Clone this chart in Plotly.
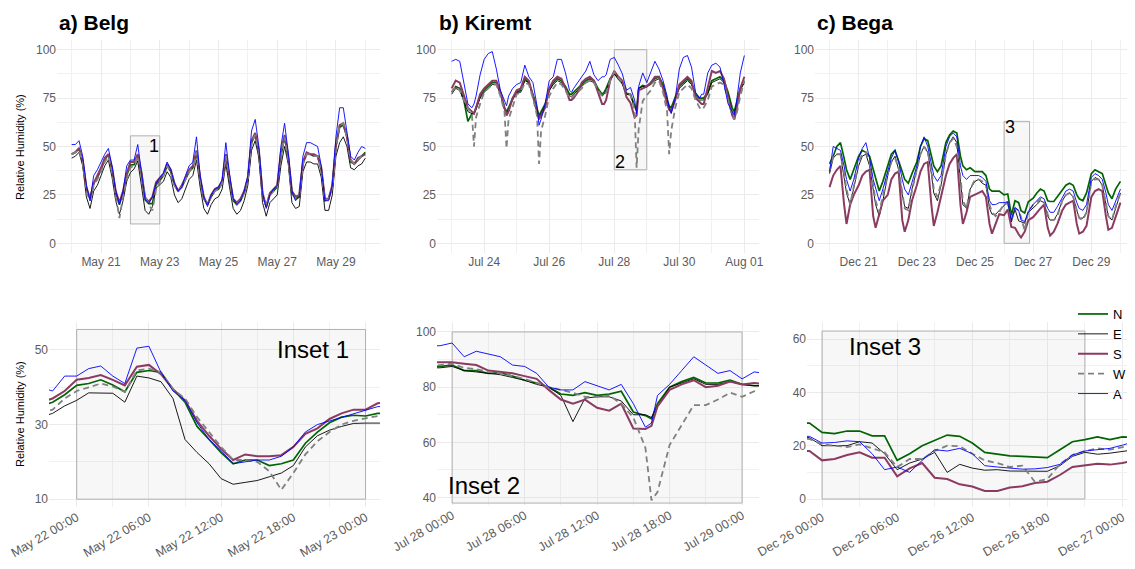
import pandas as pd
import plotly.graph_objects as go

# the page adds an 8 px body margin; the figure fills the rest of the 1135x569 window
PAGE_OFF = 8
FIG_W, FIG_H = 1135 - PAGE_OFF, 569 - PAGE_OFF
FONT = "Liberation Sans, Arial, sans-serif"

# ---------------- a) Belg : readings every 3 h, May 20 00:00 -> May 30 00:00
belg_start = "2019-05-20"
belg_day_hours = [0, 3, 6, 9, 12, 15, 18, 21]
belg_days = 10
belg_N = [46, 47, 49, 42, 28, 23, 31, 34,
          38, 43, 46, 38, 26, 20, 26, 35,
          40.5, 40.6, 44.5, 36, 22.5, 20.5, 20.5, 30.5,
          32.3, 35, 40, 37, 30, 27, 29, 33,
          37, 39, 47, 33, 23, 20, 24, 27,
          28, 31, 45, 33, 22, 20, 22, 26,
          33, 52, 56, 47, 25, 19, 25, 27,
          29, 45, 55, 44, 26, 23, 24, 41,
          46, 46, 45, 45, 38, 22, 23, 29,
          50, 60, 61, 55, 42, 41, 43, 45,
          47]
belg_E = [44, 45, 47, 40, 24, 18, 27, 30,
          35, 40, 43, 34, 22, 15, 22, 32,
          36.5, 38.4, 42.5, 30, 17, 15, 19, 28.5,
          30.4, 32, 37, 34, 25, 21, 23, 28,
          33, 35, 43, 29, 18, 15, 20, 23,
          24, 28, 41, 29, 18, 15, 17, 22,
          30, 48, 53, 44, 21, 14, 21, 23,
          25, 40, 50, 41, 21, 18, 19, 37,
          42, 42, 41, 41, 34, 17, 17, 25,
          45, 52, 55, 50, 39, 38, 40, 41,
          44]
belg_S = [46, 47, 49, 43, 29, 23, 31, 35,
          39, 44, 46, 39, 27, 21, 27, 36,
          42, 42, 46, 36.5, 23.5, 21.5, 24, 31.5,
          34, 36, 41, 38, 31, 27, 30, 34,
          38, 40, 48, 34, 24, 20, 25, 28,
          29, 32, 46, 34, 23, 21, 23, 27,
          34, 53, 57, 48, 26, 19, 26, 28,
          30, 47, 56, 45, 27, 24, 25, 42,
          47, 46, 46, 45, 39, 23, 23, 30,
          51, 61, 62, 55, 43, 41, 44, 45,
          46]
belg_W = [46, 47, 48, 42, 27, 22, 30, 33,
          37, 42, 45, 37, 25, 13, 24, 33,
          39, 40.2, 45, 37, 24, 20, 17, 28,
          31.7, 35, 40, 37, 30, 27, 29, 33,
          37, 39, 47, 33, 23, 20, 24, 27,
          28, 31, 45, 34, 22, 20, 22, 26,
          33, 52, 56, 47, 25, 19, 25, 27,
          29, 46, 55, 44, 26, 23, 24, 41,
          46, 46, 45, 45, 38, 22, 23, 29,
          50, 61, 62, 55, 43, 41, 43, 45,
          46]
belg_A = [51, 51, 53, 45, 30, 22, 35, 38,
          42, 46, 49, 40, 27, 20, 27, 40,
          43, 43, 51, 36.5, 23, 20.5, 24, 31,
          34, 36, 42, 38, 31, 27, 29, 35,
          40, 42, 55, 35, 24, 19, 25, 28,
          29, 33, 52, 36, 23, 20, 22, 27,
          35, 58, 64, 50, 26, 18, 25, 28,
          30, 50, 62, 47, 27, 22, 24, 45,
          52, 52, 51, 50, 40, 22, 22, 30,
          55, 70, 70, 58, 45, 43, 47, 50,
          49]

# ---------------- b) Kiremt : Jul 23 00:00 -> Aug 01 00:00
kiremt_start = "2019-07-23"
kiremt_day_hours = [0, 3, 6, 9, 12, 15, 16.5, 18, 21]
kiremt_days = 9
kiremt_N = [78, 81, 80, 74, 63, 67, 67, 70, 76,
            79, 81, 83, 83, 78, 70, 68, 70, 75,
            78, 79, 85, 83, 77, 70, 66, 68, 72,
            79, 83, 85, 84, 81, 77, 77, 78, 80,
            82, 84, 85, 84, 80, 77, 78, 80, 85,
            88, 85, 82.5, 77.5, 77, 71, 68.5, 80, 81.5,
            81, 83, 85, 86, 82, 74, 71, 70, 76,
            81, 83, 85, 83, 77, 75, 75, 75, 78,
            84, 85, 86, 84, 78, 70, 68, 72, 80,
            84]
kiremt_E = [77, 80, 79, 74, 68, 67, 67, 69, 75,
            78, 80, 82, 82, 77, 69, 67, 69, 74,
            78, 78, 84, 83, 76, 69, 65, 67, 71,
            79, 82, 84, 83, 80, 76, 76, 77, 79,
            81, 83, 84, 83, 79, 76, 77, 79, 84,
            87.5, 85, 82.5, 77, 76.5, 70, 69, 80, 81,
            81, 82, 84, 85, 81, 73, 70, 69, 75,
            80, 82, 84, 82, 76, 74, 74, 74, 77,
            83, 84, 85, 83, 77, 68, 67, 70, 79,
            83]
kiremt_S = [80, 84, 83, 77, 70, 68, 67, 70, 77,
            80, 82, 84, 84, 78, 70, 66, 68, 75,
            79, 80, 86, 84, 76, 68, 64, 66, 70,
            80, 84, 86, 85, 80, 74, 74, 75, 78,
            83, 85, 86, 84, 78, 72, 72, 74, 84,
            89, 86, 84, 75.5, 72.5, 65, 66, 79, 80,
            81, 83, 86, 86, 80, 72, 69, 68, 74,
            82, 84, 86, 84, 75, 73, 72, 72, 80,
            89, 88, 89, 85, 75, 66, 64, 68, 80,
            86]
kiremt_W = [78, 81, 79, 74, 70, 66, 50, 65, 72,
            78, 80, 82, 82, 76, 68, 49, 64, 70,
            77, 78, 83, 82, 75, 66, 41, 58, 66,
            76, 80, 83, 82, 79, 75, 75, 76, 78,
            80, 83, 84, 83, 79, 76, 77, 78, 84,
            88.5, 85.5, 83, 79, 76.5, 69, 39, 59, 73.5,
            76.5, 79, 83, 84, 78, 68, 46, 58, 70,
            78, 80, 82, 80, 74, 70, 69, 70, 74,
            81, 82, 83, 82, 74, 66, 64, 66, 76,
            84]
kiremt_A = [94, 95, 94, 82, 72, 70, 72, 76, 87,
            95, 98, 99, 90, 79, 74, 71, 76, 80,
            82, 83, 92, 86, 83, 71, 61, 64, 72,
            84, 86, 95, 95, 88, 79, 78, 80, 83,
            86, 89, 94, 87, 84, 86, 86, 87, 95,
            96, 92, 87.5, 79, 80.5, 74, 67, 81, 88,
            83, 88, 94, 90, 84, 76, 70, 67, 75,
            90, 96, 97, 91, 78, 75, 77, 77, 88,
            92, 93, 91, 82, 72, 68, 66, 72, 88,
            97]

# ---------------- c) Bega : Dec 20 00:00 -> Dec 30 00:00
bega_start = "2019-12-20"
bega_day_hours = [0, 3, 6, 9, 12, 14, 17, 20]
bega_days = 10
bega_N = [41, 45, 50, 52, 44, 38, 33, 38,
          45, 48, 47, 45, 38, 33, 27, 32,
          40, 46, 48, 43, 37, 33, 31, 36,
          42, 50, 54, 53, 45, 40, 37, 40,
          52, 56, 58, 57, 45, 40, 38, 39,
          37, 37, 37, 35, 28, 27, 27, 27,
          25, 25.5, 14.5, 22, 21, 16.8, 15.7, 21.5,
          23.3, 26, 28, 27, 22, 21.6, 21.6, 24,
          27, 30, 31, 30, 25, 23, 22, 26,
          36, 38, 37, 36, 30, 26, 23, 28,
          32]
bega_E = [36, 44, 46, 46, 34, 26, 20, 28,
          40, 45, 46, 40, 28, 20, 14, 22,
          35, 42, 45, 38, 25, 19, 18, 28,
          38, 46, 50, 47, 36, 26, 22, 30,
          46, 52, 55, 52, 32, 20, 18, 28,
          32, 33, 31, 30, 18, 15, 15, 17,
          20, 21.5, 11, 17.5, 11.6, 11, 10.4, 16,
          18, 20, 22, 21, 14, 12, 12, 15,
          22, 25, 26, 24, 17, 13, 13, 16,
          32, 34, 33, 30, 20, 14, 12, 18,
          26]
bega_S = [29, 35, 38, 40, 20, 10, 20, 25,
          30, 35, 37, 38, 14, 8, 15, 22,
          25, 33, 36, 37, 12, 6, 12, 22,
          30, 37, 41, 42, 20, 9, 16, 24,
          35, 41, 44, 46, 20, 10, 16, 24,
          25, 26, 27, 24, 10, 5, 10, 15,
          14.5, 17.5, 8.5, 8, 4.7, 3, 6, 12,
          13.5, 16, 18, 20, 8, 4, 6, 10,
          17, 20, 21, 22, 10, 5, 6, 9,
          24, 27, 28, 27, 14, 7, 8, 14,
          21]
bega_W = [37, 45, 46, 46, 36, 28, 20, 30,
          42, 46, 47, 42, 30, 22, 16, 24,
          36, 42, 44, 39, 26, 18, 17, 27,
          38, 46, 50, 47, 38, 28, 24, 31,
          46, 52, 54, 50, 34, 22, 18, 28,
          33, 33, 32, 31, 20, 16, 14, 16,
          20.5, 20.5, 12, 18, 17, 13.5, 6.5, 16.5,
          20, 21, 23, 22, 15, 12, 12, 14,
          22, 25, 26, 24, 17, 13, 12, 16,
          32, 33, 33, 30, 21, 14, 12, 19,
          26]
bega_A = [37, 50, 49, 48, 40, 33, 27, 33,
          44, 49, 52, 44, 33, 28, 22, 28,
          38, 44, 48, 42, 33, 28, 25, 32,
          40, 50, 55, 50, 42, 35, 32, 35,
          50, 55, 57, 55, 40, 35, 33, 35,
          35, 35, 34, 32, 22, 20, 20, 21,
          21, 21.5, 12, 18.5, 17, 12, 11.3, 16.5,
          20, 22, 24, 23, 18, 16, 16, 19,
          24, 27, 28, 27, 21, 18, 17, 20,
          34, 36, 35, 33, 26, 20, 17, 22,
          28]

# ---------------- Inset 1 : hourly, around May 22
inset1_start = "2019-05-22"
inset1_hours = list(range(-3, 27))
inset1_N = [35, 36, 38, 40.5, 41, 42, 40.6, 38.8, 44, 44.5, 44, 39.5, 36, 29.5, 26,
            22.5, 19.5, 20.5, 20.5, 19, 19.5, 20.5, 25, 28, 30.5, 32, 32.5, 32.3, 33, 33]
inset1_E = [32, 33, 35, 36.5, 38.5, 38.4, 38.4, 36, 43, 42.5, 41.5, 37, 26, 22.5, 19.5,
            15.5, 14, 14.5, 15, 16, 17, 19, 24, 27, 28.5, 29.5, 30.3, 30.4, 30.4, 30.4]
inset1_S = [36, 37, 39, 42, 42.5, 43.3, 42, 40.5, 45.5, 46, 43.5, 39.5, 36.5, 31, 27,
            23.5, 20.5, 22, 21.5, 21.5, 21.8, 24, 27.5, 29, 31.5, 33, 34, 34, 35.7, 36]
inset1_W = [33, 34, 37, 39, 40, 41, 40.2, 38.8, 44.5, 45, 44, 39.5, 37, 32, 28,
            24, 20.5, 20.5, 20, 17.5, 12.5, 17, 22, 25.5, 28, 30, 31, 31.7, 32.3, 32.5]
inset1_A = [40, 39, 43, 43, 45, 45.7, 43, 41, 50.5, 51, 44, 39, 36.5, 30.5, 26,
            23, 19.5, 20, 20.5, 20.5, 21.5, 24, 28, 30, 31, 32, 33, 34, 34.8, 35]

# ---------------- Inset 2 : hourly, around Jul 28
inset2_start = "2019-07-28"
inset2_hours = [-2, -1, 0, 1, 2, 3, 4, 5, 6, 7, 8, 9, 10, 11, 12, 13, 14, 15, 16, 16.5,
                17, 18, 19, 20, 21, 22, 23, 24, 25, 26]
inset2_N = [87.5, 87.5, 88, 86, 86, 85, 85.2, 84, 82.5, 81.5, 80, 77.5, 77, 78, 77, 77.5,
            78.5, 71, 69.7, 68.5, 74, 80, 82, 83.5, 81.5, 81.5, 82.5, 81, 80.5, 80.5]
inset2_E = [87, 87, 87.5, 86, 85.5, 85, 84.5, 83.5, 82.5, 81, 80, 77, 67.5, 76, 76.5, 76.5,
            75, 70, 70, 69, 73, 80, 81.5, 83, 81, 81, 82, 81, 80.5, 80.5]
inset2_S = [89, 89, 89, 88.5, 88, 86, 85.5, 85, 84, 83, 79, 75.5, 74, 75.5, 72.5, 71.5,
            74, 65, 64.8, 66, 73, 79, 81, 82.5, 80, 80.5, 82, 81, 81.5, 81]
inset2_W = [88, 88, 88.5, 87, 86.5, 85.5, 85, 84, 83, 81.5, 80, 79, 78, 76.5, 76.5, 77,
            74, 69, 58, 39, 42, 59, 66, 73.5, 73.5, 75.5, 78, 76.5, 78.5, 79]
inset2_A = [95, 95, 96, 91, 93, 92, 91, 88, 87.5, 85, 80, 79, 79, 82, 80.5, 79,
            81, 74, 65.5, 67, 77, 81, 86, 91, 88, 85, 86, 83, 85.5, 85]

# ---------------- Inset 3 : hourly, around Dec 26
inset3_start = "2019-12-26"
inset3_hours = list(range(-2, 27))
inset3_N = [28.5, 28.5, 25, 24.5, 25.5, 25.5, 23.7, 23.7, 14.5, 17, 20, 22, 24, 23.5, 21,
            17.5, 16.8, 16.2, 16, 15.7, 15.5, 18.5, 21.5, 22.3, 23.3, 22.3, 23.3, 23, 23]
inset3_E = [23.5, 23, 20, 20, 20, 21.5, 21, 17, 11, 13.5, 15, 17.5, 10, 13, 11.6,
            10.8, 11, 10.5, 10.4, 10.4, 10.4, 12.5, 16, 17.5, 16.8, 17.2, 17.9, 18.5, 18.5]
inset3_S = [18, 18, 14.5, 15, 16.5, 17.5, 15.5, 15.5, 8.5, 11.5, 13.5, 8, 7.5, 5.5, 4.7,
            3, 3, 4.3, 4.8, 6, 6.5, 9, 12, 12.5, 13.2, 12.9, 13.5, 14.5, 14.5]
inset3_W = [23, 22.5, 20.5, 20, 19.5, 20.5, 19, 17.5, 12, 15, 15, 18, 20, 19.8, 17,
            14.5, 13.5, 12, 12.5, 6.5, 7.5, 13, 16.5, 18, 19, 18.5, 19.5, 20.4, 20.5]
inset3_A = [23.5, 23.5, 21, 21.2, 21.8, 21.5, 17, 11, 12, 10, 14.5, 18.5, 18, 19, 17,
            12.5, 12, 11.5, 11.2, 11.3, 11.8, 13, 16.5, 18, 18.5, 19, 20.2, 21.6, 22]

SERIES = ["N", "E", "S", "W", "A"]
STYLE = {
    "N": dict(color="#006400", width=1.7, dash="solid"),
    "E": dict(color="#000000", width=0.9, dash="solid"),
    "S": dict(color="#8B3A62", width=2.0, dash="solid"),
    "W": dict(color="#808080", width=1.8, dash="6px,4px"),
    "A": dict(color="#0000FF", width=0.9, dash="solid"),
}


def stamps(start, hours):
    t0 = pd.Timestamp(start)
    return [t0 + pd.Timedelta(hours=h) for h in hours]


def grid_hours(day_hours, days):
    return [d * 24 + h for d in range(days) for h in day_hours] + [days * 24]


panels = [
    ("x", "y", stamps(belg_start, grid_hours(belg_day_hours, belg_days)),
     dict(N=belg_N, E=belg_E, S=belg_S, W=belg_W, A=belg_A), False),
    ("x2", "y2", stamps(kiremt_start, grid_hours(kiremt_day_hours, kiremt_days)),
     dict(N=kiremt_N, E=kiremt_E, S=kiremt_S, W=kiremt_W, A=kiremt_A), False),
    ("x3", "y3", stamps(bega_start, grid_hours(bega_day_hours, bega_days)),
     dict(N=bega_N, E=bega_E, S=bega_S, W=bega_W, A=bega_A), False),
    ("x4", "y4", stamps(inset1_start, inset1_hours),
     dict(N=inset1_N, E=inset1_E, S=inset1_S, W=inset1_W, A=inset1_A), False),
    ("x5", "y5", stamps(inset2_start, inset2_hours),
     dict(N=inset2_N, E=inset2_E, S=inset2_S, W=inset2_W, A=inset2_A), False),
    ("x6", "y6", stamps(inset3_start, inset3_hours),
     dict(N=inset3_N, E=inset3_E, S=inset3_S, W=inset3_W, A=inset3_A), True),
]

fig = go.Figure()
for xa, ya, times, data, show in panels:
    for s in SERIES:
        st = STYLE[s]
        fig.add_trace(go.Scatter(
            x=times, y=data[s], mode="lines", name=s,
            showlegend=show, xaxis=xa, yaxis=ya,
            line=dict(color=st["color"], width=st["width"], dash=st["dash"]),
        ))

GRID = "#ebebeb"
GRID_MINOR = "#f1f1f1"
TICK = "#5c5c5c"
DAY = 86400000
HOUR = 3600000


def X(px):
    return (px - PAGE_OFF) / FIG_W


def Y(py):
    return 1 - (py - PAGE_OFF) / FIG_H


def xdom(a, b):
    return [X(a), X(b)]


def ydom(top, bottom):
    return [Y(bottom), Y(top)]


def xaxis(dom, rng, tick0, dtick, mdtick, fmt, anchor, angle=0, size=12):
    return dict(domain=dom, range=rng, type="date", tick0=tick0, dtick=dtick,
                tickformat=fmt, tickangle=angle, anchor=anchor, automargin=False,
                showgrid=True, gridcolor=GRID, gridwidth=1, zeroline=False,
                showline=False, ticks="", tickfont=dict(size=size, color=TICK),
                minor=dict(dtick=mdtick, tick0=tick0, showgrid=True,
                           gridcolor=GRID_MINOR, gridwidth=1))


def yaxis(dom, rng, tick0, dtick, anchor):
    return dict(domain=dom, range=rng, tick0=tick0, dtick=dtick, anchor=anchor,
                automargin=False,
                showgrid=True, gridcolor=GRID, gridwidth=1, zeroline=False,
                showline=False, ticks="", tickfont=dict(size=12, color=TICK),
                minor=dict(dtick=dtick / 2, tick0=tick0, showgrid=True,
                           gridcolor=GRID_MINOR, gridwidth=1))


TOP = ydom(40, 253)
fig.update_layout(
    xaxis=xaxis(xdom(57, 380), ["2019-05-19 12:00", "2019-05-30 12:00"],
                "2019-05-21", 2 * DAY, DAY, "%b %d", "y"),
    xaxis2=xaxis(xdom(437, 759), ["2019-07-22 13:12", "2019-08-01 10:48"],
                 "2019-07-24", 2 * DAY, DAY, "%b %d", "y2"),
    xaxis3=xaxis(xdom(815, 1135), ["2019-12-19 12:00", "2019-12-30 12:00"],
                 "2019-12-21", 2 * DAY, DAY, "%b %d", "y3"),
    xaxis4=xaxis(xdom(49, 380), ["2019-05-21 21:42", "2019-05-23 01:12"],
                 "2019-05-22 00:00", 6 * HOUR, 3 * HOUR, "%b %d %H:%M", "y4", -30, 12.5),
    xaxis5=xaxis(xdom(437, 759), ["2019-07-27 22:45", "2019-07-29 01:24"],
                 "2019-07-28 00:00", 6 * HOUR, 3 * HOUR, "%b %d %H:%M", "y5", -30, 12.5),
    xaxis6=xaxis(xdom(807, 1135), ["2019-12-25 22:48", "2019-12-27 01:00"],
                 "2019-12-26 00:00", 6 * HOUR, 3 * HOUR, "%b %d %H:%M", "y6", -30, 12.5),
    yaxis=yaxis(TOP, [-5, 105], 0, 25, "x"),
    yaxis2=yaxis(TOP, [-5, 105], 0, 25, "x2"),
    yaxis3=yaxis(TOP, [-5, 105], 0, 25, "x3"),
    yaxis4=yaxis(ydom(322, 507), [7.9, 57.5], 10, 20, "x4"),
    yaxis5=yaxis(ydom(322, 505), [37.3, 103.6], 40, 20, "x5"),
    yaxis6=yaxis(ydom(322, 507), [-3, 66.4], 0, 20, "x6"),
)

# highlighted windows (top panels) and inset frames (bottom panels)
RECT = dict(type="rect", layer="between", fillcolor="rgba(190,190,190,0.12)",
            line=dict(color="#b0b0b0", width=1))
windows = [
    ("x", "y", "2019-05-22 00:00", "2019-05-23 00:00", 10, 55.5),
    ("x2", "y2", "2019-07-28 00:00", "2019-07-29 00:00", 38, 100),
    ("x3", "y3", "2019-12-26 00:00", "2019-12-26 21:00", 0, 63),
    ("x4", "y4", "2019-05-22 00:00", "2019-05-23 00:00", 10, 55.5),
    ("x5", "y5", "2019-07-28 00:00", "2019-07-29 00:00", 38, 100),
    ("x6", "y6", "2019-12-26 00:00", "2019-12-26 21:00", 0, 63),
]
for xr, yr, x0, x1, y0, y1 in windows:
    fig.add_shape(xref=xr, yref=yr, x0=x0, x1=x1, y0=y0, y1=y1, **RECT)

ann = []
for txt, xpx in [("a) Belg", 57), ("b) Kiremt", 437), ("c) Bega", 815)]:
    ann.append(dict(text=f"<b>{txt}</b>", xref="paper", yref="paper", x=X(xpx),
                    y=Y(23), xanchor="left", yanchor="middle", showarrow=False,
                    font=dict(size=21, color="black")))
for ypx in [147, 414]:
    ann.append(dict(text="Relative Humidity (%)", xref="paper", yref="paper",
                    x=X(20), y=Y(ypx), textangle=-90, showarrow=False,
                    xanchor="center", yanchor="middle", font=dict(size=11, color="black")))
for txt, xr, yr, x, y in [("1", "x", "y", "2019-05-22 19:40", 50),
                          ("2", "x2", "y2", "2019-07-28 04:20", 42),
                          ("3", "x3", "y3", "2019-12-26 04:30", 60)]:
    ann.append(dict(text=txt, xref=xr, yref=yr, x=x, y=y, showarrow=False,
                    font=dict(size=18, color="black")))
for txt, xr, yr, x, y in [("Inset 1", "x4", "y4", "2019-05-22 19:40", 50),
                          ("Inset 2", "x5", "y5", "2019-07-28 02:40", 44.5),
                          ("Inset 3", "x6", "y6", "2019-12-26 05:00", 57.3)]:
    ann.append(dict(text=txt, xref=xr, yref=yr, x=x, y=y, showarrow=False,
                    font=dict(size=24, color="black")))

fig.update_layout(
    width=FIG_W, height=FIG_H,
    margin=dict(l=0, r=0, t=0, b=0, autoexpand=False),
    paper_bgcolor="white", plot_bgcolor="white",
    font=dict(family=FONT, color="black"),
    annotations=ann,
    legend=dict(x=X(1073), y=Y(299), xanchor="left", yanchor="top",
                bgcolor="rgba(0,0,0,0)", font=dict(size=13, color="black"),
                itemwidth=30, tracegroupgap=0, traceorder="normal"),
)

fig.write_html("out.html")
